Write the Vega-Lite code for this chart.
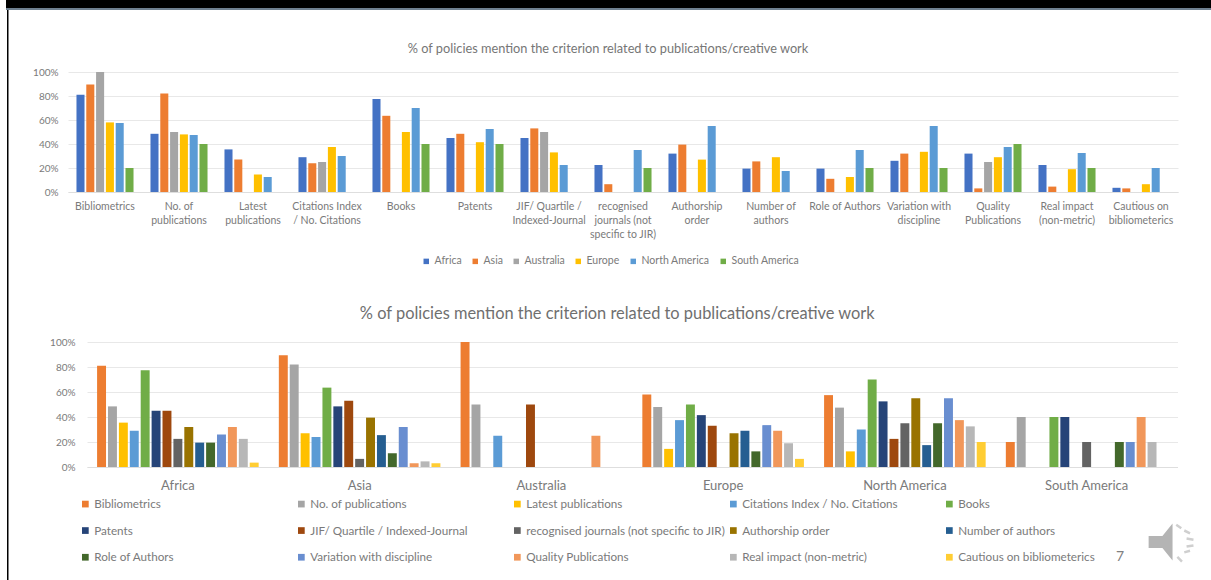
{
"$schema":"https://vega.github.io/schema/vega-lite/v6.json",
"background":"white",
"padding":{"left":6,"top":0,"right":0,"bottom":0},
"config":{"font":"Lato","view":{"stroke":null},"legend":{"title":null}},
"datasets":{
"criteria":[
{"criterion":"Bibliometrics","axisLabel":"Bibliometrics"},
{"criterion":"No. of publications","axisLabel":"No. of|publications"},
{"criterion":"Latest publications","axisLabel":"Latest|publications"},
{"criterion":"Citations Index / No. Citations","axisLabel":"Citations Index|/ No. Citations"},
{"criterion":"Books","axisLabel":"Books"},
{"criterion":"Patents","axisLabel":"Patents"},
{"criterion":"JIF/ Quartile / Indexed-Journal","axisLabel":"JIF/ Quartile /|Indexed-Journal"},
{"criterion":"recognised journals (not specific to JIR)","axisLabel":"recognised|journals (not|specific to JIR)"},
{"criterion":"Authorship order","axisLabel":"Authorship|order"},
{"criterion":"Number of authors","axisLabel":"Number of|authors"},
{"criterion":"Role of Authors","axisLabel":"Role of Authors"},
{"criterion":"Variation with discipline","axisLabel":"Variation with|discipline"},
{"criterion":"Quality Publications","axisLabel":"Quality|Publications"},
{"criterion":"Real impact (non-metric)","axisLabel":"Real impact|(non-metric)"},
{"criterion":"Cautious on bibliometerics","axisLabel":"Cautious on|bibliometerics"}
],
"rows":[
{"region":"Africa","criterion":"Bibliometrics","value":81},{"region":"Asia","criterion":"Bibliometrics","value":89.5},{"region":"Australia","criterion":"Bibliometrics","value":100},{"region":"Europe","criterion":"Bibliometrics","value":58},{"region":"North America","criterion":"Bibliometrics","value":57.5},{"region":"South America","criterion":"Bibliometrics","value":20},
{"region":"Africa","criterion":"No. of publications","value":48.5},{"region":"Asia","criterion":"No. of publications","value":82},{"region":"Australia","criterion":"No. of publications","value":50},{"region":"Europe","criterion":"No. of publications","value":48},{"region":"North America","criterion":"No. of publications","value":47.5},{"region":"South America","criterion":"No. of publications","value":40},
{"region":"Africa","criterion":"Latest publications","value":35.5},{"region":"Asia","criterion":"Latest publications","value":27},{"region":"Australia","criterion":"Latest publications","value":0},{"region":"Europe","criterion":"Latest publications","value":14.5},{"region":"North America","criterion":"Latest publications","value":12.5},{"region":"South America","criterion":"Latest publications","value":0},
{"region":"Africa","criterion":"Citations Index / No. Citations","value":29},{"region":"Asia","criterion":"Citations Index / No. Citations","value":24},{"region":"Australia","criterion":"Citations Index / No. Citations","value":25},{"region":"Europe","criterion":"Citations Index / No. Citations","value":37.5},{"region":"North America","criterion":"Citations Index / No. Citations","value":30},{"region":"South America","criterion":"Citations Index / No. Citations","value":0},
{"region":"Africa","criterion":"Books","value":77.5},{"region":"Asia","criterion":"Books","value":63.5},{"region":"Australia","criterion":"Books","value":0},{"region":"Europe","criterion":"Books","value":50},{"region":"North America","criterion":"Books","value":70},{"region":"South America","criterion":"Books","value":40},
{"region":"Africa","criterion":"Patents","value":45},{"region":"Asia","criterion":"Patents","value":48.5},{"region":"Australia","criterion":"Patents","value":0},{"region":"Europe","criterion":"Patents","value":41.5},{"region":"North America","criterion":"Patents","value":52.5},{"region":"South America","criterion":"Patents","value":40},
{"region":"Africa","criterion":"JIF/ Quartile / Indexed-Journal","value":45},{"region":"Asia","criterion":"JIF/ Quartile / Indexed-Journal","value":53},{"region":"Australia","criterion":"JIF/ Quartile / Indexed-Journal","value":50},{"region":"Europe","criterion":"JIF/ Quartile / Indexed-Journal","value":33},{"region":"North America","criterion":"JIF/ Quartile / Indexed-Journal","value":22.5},{"region":"South America","criterion":"JIF/ Quartile / Indexed-Journal","value":0},
{"region":"Africa","criterion":"recognised journals (not specific to JIR)","value":22.5},{"region":"Asia","criterion":"recognised journals (not specific to JIR)","value":6.5},{"region":"Australia","criterion":"recognised journals (not specific to JIR)","value":0},{"region":"Europe","criterion":"recognised journals (not specific to JIR)","value":0},{"region":"North America","criterion":"recognised journals (not specific to JIR)","value":35},{"region":"South America","criterion":"recognised journals (not specific to JIR)","value":20},
{"region":"Africa","criterion":"Authorship order","value":32},{"region":"Asia","criterion":"Authorship order","value":39.5},{"region":"Australia","criterion":"Authorship order","value":0},{"region":"Europe","criterion":"Authorship order","value":27},{"region":"North America","criterion":"Authorship order","value":55},{"region":"South America","criterion":"Authorship order","value":0},
{"region":"Africa","criterion":"Number of authors","value":19.5},{"region":"Asia","criterion":"Number of authors","value":25.5},{"region":"Australia","criterion":"Number of authors","value":0},{"region":"Europe","criterion":"Number of authors","value":29},{"region":"North America","criterion":"Number of authors","value":17.5},{"region":"South America","criterion":"Number of authors","value":0},
{"region":"Africa","criterion":"Role of Authors","value":19.5},{"region":"Asia","criterion":"Role of Authors","value":11},{"region":"Australia","criterion":"Role of Authors","value":0},{"region":"Europe","criterion":"Role of Authors","value":12.5},{"region":"North America","criterion":"Role of Authors","value":35},{"region":"South America","criterion":"Role of Authors","value":20},
{"region":"Africa","criterion":"Variation with discipline","value":26},{"region":"Asia","criterion":"Variation with discipline","value":32},{"region":"Australia","criterion":"Variation with discipline","value":0},{"region":"Europe","criterion":"Variation with discipline","value":33.5},{"region":"North America","criterion":"Variation with discipline","value":55},{"region":"South America","criterion":"Variation with discipline","value":20},
{"region":"Africa","criterion":"Quality Publications","value":32},{"region":"Asia","criterion":"Quality Publications","value":3},{"region":"Australia","criterion":"Quality Publications","value":25},{"region":"Europe","criterion":"Quality Publications","value":29},{"region":"North America","criterion":"Quality Publications","value":37.5},{"region":"South America","criterion":"Quality Publications","value":40},
{"region":"Africa","criterion":"Real impact (non-metric)","value":22.5},{"region":"Asia","criterion":"Real impact (non-metric)","value":4.5},{"region":"Australia","criterion":"Real impact (non-metric)","value":0},{"region":"Europe","criterion":"Real impact (non-metric)","value":19},{"region":"North America","criterion":"Real impact (non-metric)","value":32.5},{"region":"South America","criterion":"Real impact (non-metric)","value":20},
{"region":"Africa","criterion":"Cautious on bibliometerics","value":3.5},{"region":"Asia","criterion":"Cautious on bibliometerics","value":3},{"region":"Australia","criterion":"Cautious on bibliometerics","value":0},{"region":"Europe","criterion":"Cautious on bibliometerics","value":6.5},{"region":"North America","criterion":"Cautious on bibliometerics","value":20},{"region":"South America","criterion":"Cautious on bibliometerics","value":0}
]
},
"resolve":{"scale":{"color":"independent","xOffset":"independent","x":"independent","y":"independent"},"legend":{"color":"independent"},"axis":{"x":"independent","y":"independent"}},
"vconcat":[
{"width":1205,"height":8,"view":{"fill":"#000000","stroke":null},"data":{"values":[]},"mark":"rect","encoding":{}},
{"width":1205,"height":2,"view":{"fill":"#6f8090","stroke":null},"data":{"values":[]},"mark":"rect","encoding":{}},
{"hconcat":[
{"width":1,"height":570,"data":{"values":[]},"mark":"rect","encoding":{}},
{"width":1.5,"height":570,"view":{"fill":"#000000","stroke":null},"data":{"values":[]},"mark":"rect","encoding":{}},
{"vconcat":[
{"width":1,"height":32,"data":{"values":[]},"mark":"rect","encoding":{}},
{"hconcat":[
{"width":22.5,"height":1,"data":{"values":[]},"mark":"rect","encoding":{}},
{"width":1110,"height":120,
"title":{"text":"% of policies mention the criterion related to publications/creative work","fontSize":12.75,"fontWeight":"normal","color":"#767676","dx":-15,"offset":11.7},
"data":{"name":"rows"},
"transform":[{"lookup":"criterion","from":{"data":{"name":"criteria"},"key":"criterion","fields":["axisLabel"]}}],
"mark":{"type":"bar"},
"encoding":{
"x":{"field":"axisLabel","type":"nominal","sort":null,
"scale":{"paddingInner":0,"paddingOuter":0,"domain":["Bibliometrics","No. of|publications","Latest|publications","Citations Index|/ No. Citations","Books","Patents","JIF/ Quartile /|Indexed-Journal","recognised|journals (not|specific to JIR)","Authorship|order","Number of|authors","Role of Authors","Variation with|discipline","Quality|Publications","Real impact|(non-metric)","Cautious on|bibliometerics"]},
"axis":{"title":null,"labelAngle":0,"labelExpr":"split(datum.label,'|')","labelFontSize":10.5,"labelColor":"#7a7a7a","labelPadding":9,"labelLineHeight":14,"labelLimit":200,"labelOverlap":false,"ticks":false,"domainColor":"#dedede"}},
"xOffset":{"field":"region","type":"nominal","scale":{"domain":["Africa","Asia","Australia","Europe","North America","South America"],"paddingInner":0.18,"paddingOuter":0.865}},
"y":{"field":"value","type":"quantitative","scale":{"domain":[0,100],"nice":false},
"axis":{"title":null,"values":[0,20,40,60,80,100],"labelOverlap":false,"labelExpr":"datum.value+'%'","labelFontSize":10,"labelColor":"#7a7a7a","labelPadding":10,"ticks":false,"domain":false,"gridColor":"#e8e8e8"}},
"color":{"field":"region","type":"nominal",
"scale":{"domain":["Africa","Asia","Australia","Europe","North America","South America"],"range":["#4472C4","#ED7D31","#A5A5A5","#FFC000","#5B9BD5","#70AD47"]},
"legend":{"orient":"none","legendX":353,"legendY":184,"direction":"horizontal","columns":6,"symbolType":"square","symbolSize":30,"symbolStrokeWidth":0,"labelFontSize":10.5,"labelColor":"#7a7a7a","labelOffset":3,"columnPadding":8}}
}}
],"spacing":0,"resolve":{"scale":{"color":"independent","xOffset":"independent"},"legend":{"color":"independent"}}},
{"width":1,"height":38,"data":{"values":[]},"mark":"rect","encoding":{}},
{"hconcat":[
{"width":39.5,"height":1,"data":{"values":[]},"mark":"rect","encoding":{}},
{"width":1090.5,"height":125,
"title":{"text":"% of policies mention the criterion related to publications/creative work","fontSize":16.4,"fontWeight":"normal","color":"#6f6f6f","dx":-15,"offset":14.7},
"encoding":{
"x":{"field":"region","type":"nominal","sort":null,
"scale":{"paddingInner":0,"paddingOuter":0,"domain":["Africa","Asia","Australia","Europe","North America","South America"]},
"axis":{"title":null,"labelAngle":0,"labelFontSize":13,"labelColor":"#7a7a7a","labelPadding":12,"ticks":false,"domainColor":"#dedede"}},
"y":{"field":"value","type":"quantitative","scale":{"domain":[0,100],"nice":false},
"axis":{"title":null,"values":[0,20,40,60,80,100],"labelOverlap":false,"labelExpr":"datum.value+'%'","labelFontSize":10,"labelColor":"#7a7a7a","labelPadding":12,"ticks":false,"domain":false,"gridColor":"#e8e8e8"}}
},
"layer":[
{"data":{"name":"rows"},
"mark":{"type":"bar"},
"encoding":{
"xOffset":{"field":"criterion","type":"nominal","scale":{"domain":["Bibliometrics","No. of publications","Latest publications","Citations Index / No. Citations","Books","Patents","JIF/ Quartile / Indexed-Journal","recognised journals (not specific to JIR)","Authorship order","Number of authors","Role of Authors","Variation with discipline","Quality Publications","Real impact (non-metric)","Cautious on bibliometerics"],"paddingInner":0.18,"paddingOuter":0.925}},
"color":{"field":"criterion","type":"nominal",
"scale":{"domain":["Bibliometrics","No. of publications","Latest publications","Citations Index / No. Citations","Books","Patents","JIF/ Quartile / Indexed-Journal","recognised journals (not specific to JIR)","Authorship order","Number of authors","Role of Authors","Variation with discipline","Quality Publications","Real impact (non-metric)","Cautious on bibliometerics"],"range":["#ED7D31","#A5A5A5","#FFC000","#5B9BD5","#70AD47","#264478","#9E480E","#636363","#997300","#255E91","#43682B","#698ED0","#F1975A","#B7B7B7","#FFCD33"]},
"legend":{"orient":"none","legendX":-7.5,"legendY":156,"direction":"horizontal","columns":5,"gridAlign":"all","symbolType":"square","symbolSize":45,"symbolStrokeWidth":0,"labelFontSize":11.7,"labelColor":"#7a7a7a","labelOffset":3,"columnPadding":2,"rowPadding":13.7,"labelLimit":300}}
}},
{"data":{"values":[{"region":"South America","value":-72,"page":"7"}]},
"mark":{"type":"text","fontSize":14,"color":"#808080","xOffset":33.5},
"encoding":{"text":{"field":"page"}}},
{"data":{"values":[{"region":"South America","value":-60}]},
"mark":{"type":"point","filled":true,"opacity":1,"xOffset":85,"size":2116,"color":"#b4b4b4","shape":"M-1 -0.26 L-0.4 -0.26 L0.04 -0.8 L0.04 0.8 L-0.4 0.26 L-1 0.26 Z"}},
{"data":{"values":[{"region":"South America","value":-60}]},
"mark":{"type":"point","filled":false,"opacity":1,"xOffset":85,"size":2116,"color":"#cfcfcf","strokeWidth":2.5,"shape":"M0.2 -0.75 L0.42 -0.6 M0.55 -0.5 L0.8 -0.38 M0.65 -0.15 L0.95 -0.1 M0.65 0.2 L0.95 0.15 M0.55 0.45 L0.8 0.38 M0.25 0.65 L0.45 0.85"}}
]}
],"spacing":0,"resolve":{"scale":{"color":"independent","xOffset":"independent"},"legend":{"color":"independent"}}}
],"spacing":0,"resolve":{"scale":{"color":"independent","xOffset":"independent","x":"independent","y":"independent"},"legend":{"color":"independent"},"axis":{"x":"independent","y":"independent"}}}
],"spacing":0,"resolve":{"scale":{"color":"independent","xOffset":"independent"},"legend":{"color":"independent"}}}
],"spacing":0
}
